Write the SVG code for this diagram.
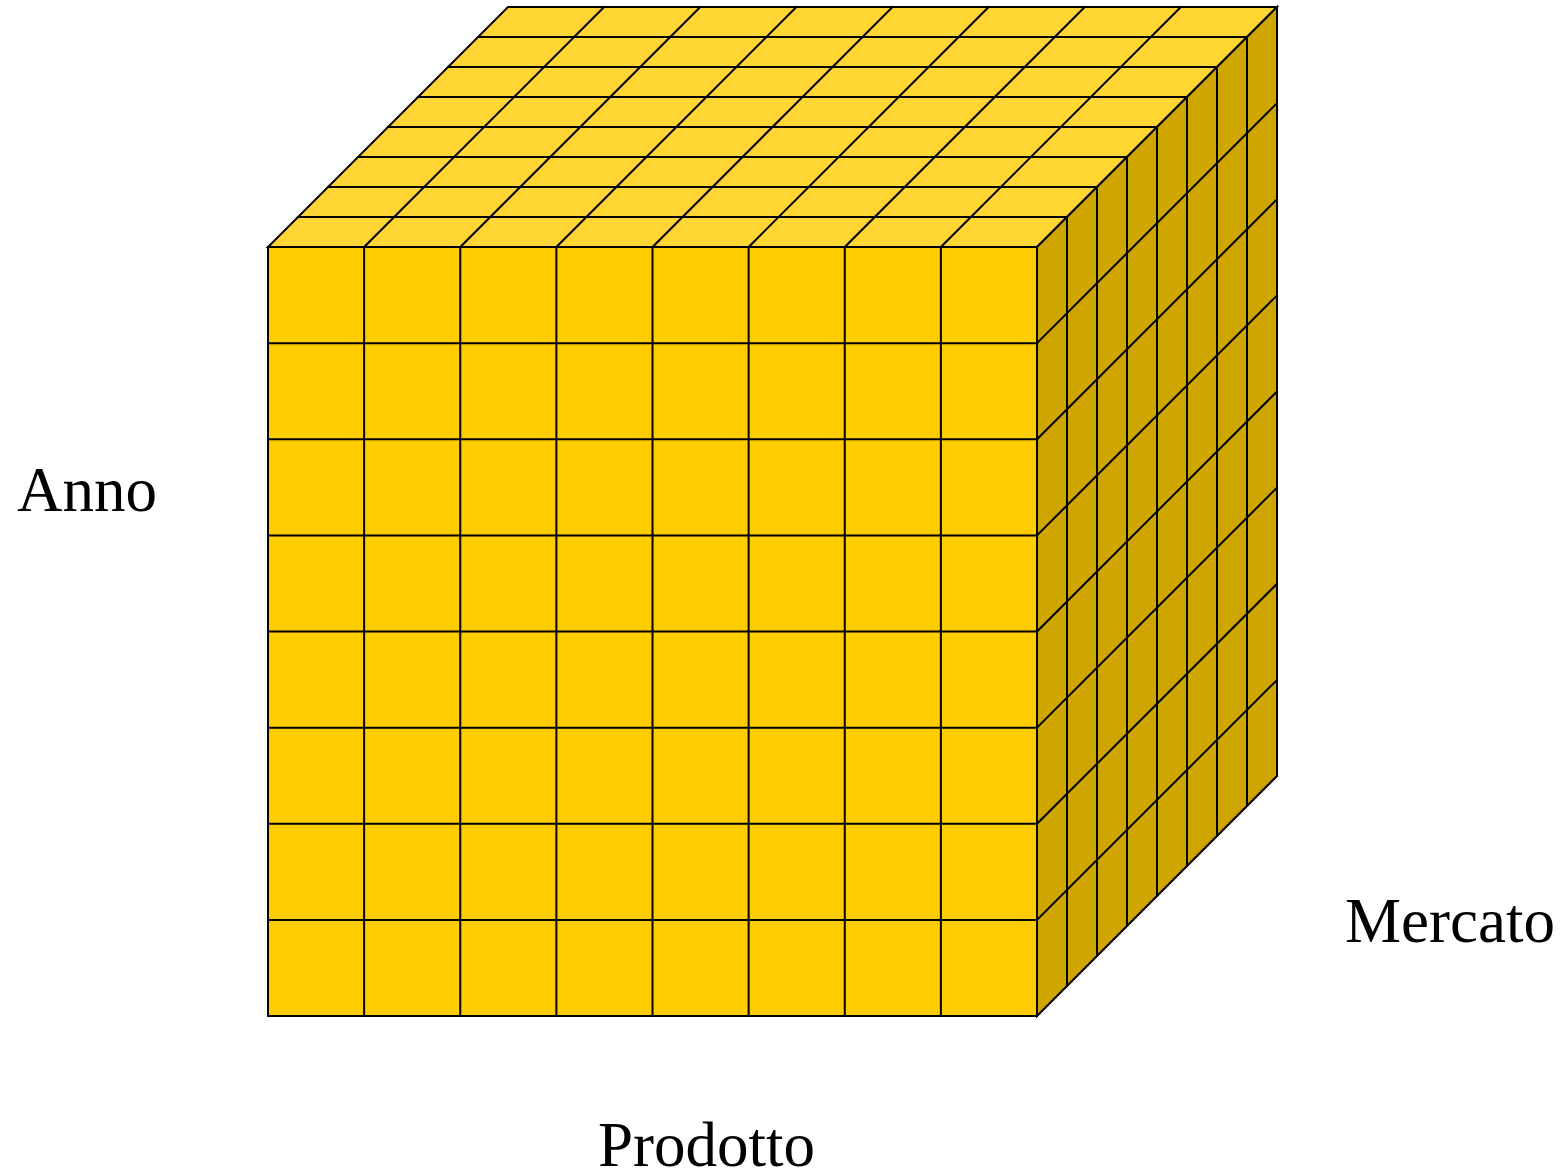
<svg xmlns="http://www.w3.org/2000/svg" width="1564" height="1171" viewBox="0 0 1564 1171">
<style>
.ln{fill:none;stroke:#000;stroke-width:2;stroke-linecap:square}
.edge{stroke:#000;stroke-width:2;stroke-linejoin:miter}
.lbl{font-family:"Liberation Serif","Times New Roman",serif;font-size:63px;fill:#000}
</style>
<rect width="1564" height="1171" fill="#fff"/>
<g id="top-face">
<polygon class="edge" fill="#FFD633" points="268,247 1037,247 1277,7 508,7"/>
<path class="ln" d="M298,217H1067M328,187H1097M358,157H1127M388,127H1157M418,97H1187M448,67H1217M478,37H1247
M364.125,247l240,-240M460.25,247l240,-240M556.375,247l240,-240M652.5,247l240,-240M748.625,247l240,-240M844.75,247l240,-240M940.875,247l240,-240"/>
</g>
<g id="side-face">
<polygon class="edge" fill="#CFA500" points="1037,247 1277,7 1277,776 1037,1016"/>
<path class="ln" d="M1067,217V986M1097,187V956M1127,157V926M1157,127V896M1187,97V866M1217,67V836M1247,37V806
M1037,343.125l240,-240M1037,439.25l240,-240M1037,535.375l240,-240M1037,631.5l240,-240M1037,727.625l240,-240M1037,823.75l240,-240M1037,919.875l240,-240"/>
</g>
<g id="front-face">
<rect class="edge" fill="#FFCC00" x="268" y="247" width="769" height="769"/>
<path class="ln" d="M364.125,247V1016M460.25,247V1016M556.375,247V1016M652.5,247V1016M748.625,247V1016M844.75,247V1016M940.875,247V1016
M268,343.125H1037M268,439.25H1037M268,535.375H1037M268,631.5H1037M268,727.625H1037M268,823.75H1037M268,919.875H1037"/>
</g>
<g id="labels">
<text class="lbl" x="17" y="511">Anno</text>
<text class="lbl" x="1345" y="942">Mercato</text>
<text class="lbl" x="598" y="1166">Prodotto</text>
</g>
</svg>
